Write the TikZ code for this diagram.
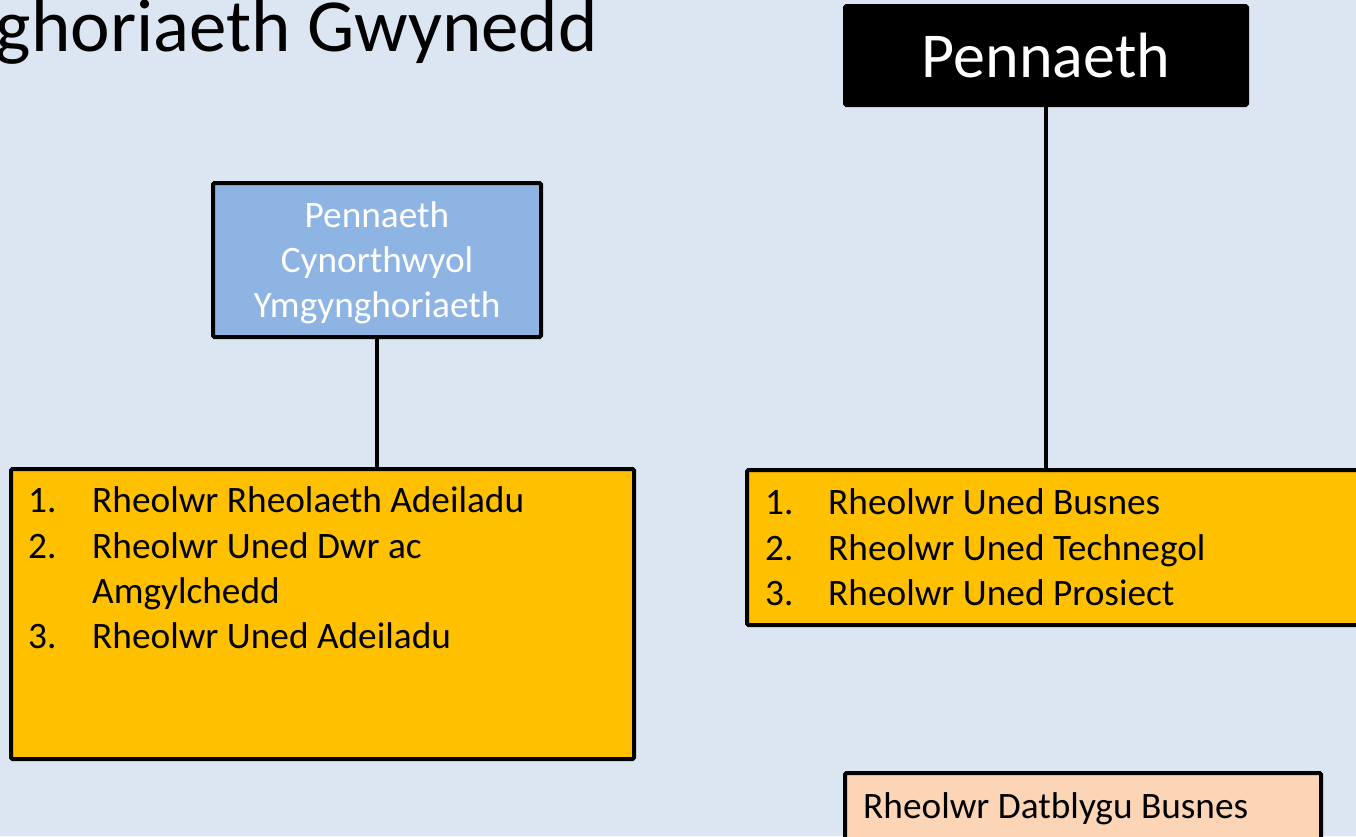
\documentclass[tikz,border=0pt]{standalone}
\usepackage{fontspec}
\setmainfont{Carlito}
\definecolor{bgc}{HTML}{DCE6F2}
\definecolor{bluebox}{HTML}{8EB4E3}
\definecolor{orangebox}{HTML}{FFC000}
\definecolor{peachbox}{HTML}{FBD5B5}
\begin{document}
\begin{tikzpicture}[x=1pt,y=-1pt,
  box/.style={draw=black,line width=4pt,rectangle,rounded corners=1.5pt,inner sep=0pt},
  conn/.style={draw=black,line width=4.5pt},
  txt/.style={inner sep=0pt,anchor=base west,font=\fontsize{37.3}{45}\selectfont},
]
\useasboundingbox (0,0) rectangle (1356,836);
\clip (0,0) rectangle (1356,836);
\fill[bgc] (0,0) rectangle (1356,836);

% title (clipped at the left)
\node[inner sep=0pt,anchor=base east,font=\fontsize{75}{80}\selectfont] (title) at (598,51) {ghoriaeth Gwynedd};

% boxes
\node[box,fill=black,draw=black,minimum width=402pt,minimum height=99pt,text=white,
      font=\fontsize{64}{70}\selectfont] (pen) at (1046,55.5) {Pennaeth};
\node[box,fill=bluebox,minimum width=328pt,minimum height=154pt] (blue) at (377,260) {};
\node[inner sep=0pt,text=white,align=center,font=\fontsize{37.3}{45}\selectfont]
      (bluetxt) at (377,263) {Pennaeth\\Cynorthwyol\\Ymgynghoriaeth};
\node[box,fill=orangebox,minimum width=623pt,minimum height=290pt] (lorange) at (322.5,614) {};
\node[box,fill=orangebox,minimum width=633pt,minimum height=155pt] (rorange) at (1063.5,547.5) {};
\node[box,fill=peachbox,minimum width=476pt,minimum height=87pt] (peach) at (1083,816.5) {};

% connectors
\draw[conn] (pen.south) -- (pen.south |- rorange.north);
\draw[conn] (blue.south) -- (blue.south |- lorange.north);

% left list
\node[txt] (l1n) at (28,512) {1.};
\node[txt] (l1t) at (92,512) {Rheolwr Rheolaeth Adeiladu};
\node[txt] (l2n) at (28,558) {2.};
\node[txt] (l2t) at (92,558) {Rheolwr Uned Dwr ac};
\node[txt] (l2b) at (92,603) {Amgylchedd};
\node[txt] (l3n) at (28,648) {3.};
\node[txt] (l3t) at (92,648) {Rheolwr Uned Adeiladu};

% right list
\node[txt] (r1n) at (765,514) {1.};
\node[txt] (r1t) at (828,514) {Rheolwr Uned Busnes};
\node[txt] (r2n) at (765,560) {2.};
\node[txt] (r2t) at (828,560) {Rheolwr Uned Technegol};
\node[txt] (r3n) at (765,605) {3.};
\node[txt] (r3t) at (828,605) {Rheolwr Uned Prosiect};

% bottom box text
\node[txt] (pt) at (863,818) {Rheolwr Datblygu Busnes};
\end{tikzpicture}
\end{document}
